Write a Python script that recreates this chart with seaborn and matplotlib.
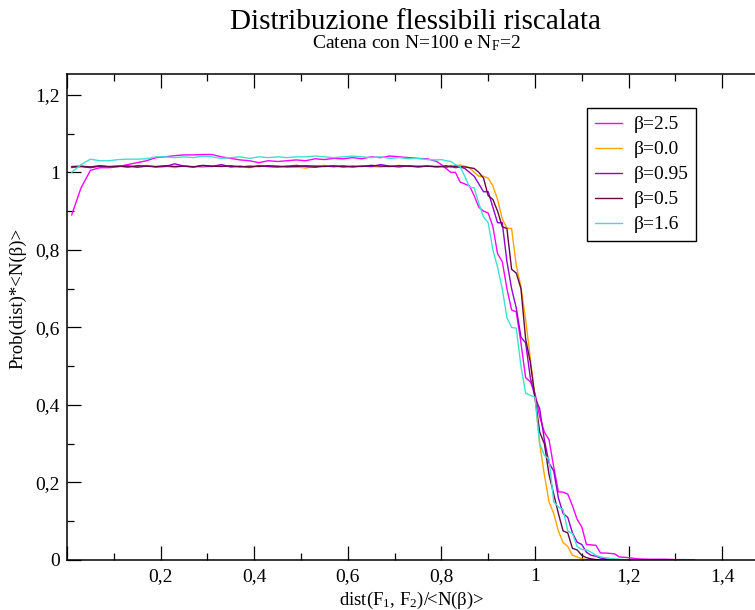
import matplotlib
matplotlib.use("Agg")
import matplotlib.pyplot as plt
import numpy as np
import pandas as pd
import seaborn as sns
from matplotlib.ticker import MultipleLocator, FuncFormatter

# ---------------- data ----------------
x_vals = [0.01, 0.03, 0.05, 0.07, 0.09, 0.11, 0.13, 0.15, 0.17, 0.19,
          0.21, 0.23, 0.25, 0.27, 0.29, 0.31, 0.33, 0.35, 0.37, 0.39,
          0.41, 0.43, 0.45, 0.47, 0.49, 0.51, 0.53, 0.55, 0.57, 0.59,
          0.61, 0.63, 0.65, 0.67, 0.69, 0.71, 0.73, 0.75, 0.77, 0.79,
          0.80, 0.81, 0.82, 0.83, 0.84, 0.85, 0.86, 0.87, 0.88, 0.89,
          0.90, 0.91, 0.92, 0.93, 0.94, 0.95, 0.96, 0.97, 0.98, 0.99,
          1.00, 1.01, 1.02, 1.03, 1.04, 1.05, 1.06, 1.07, 1.08, 1.09,
          1.10, 1.11, 1.12, 1.13, 1.14, 1.15, 1.16, 1.17, 1.18, 1.19,
          1.20, 1.22, 1.24, 1.26, 1.28, 1.30, 1.32, 1.34]

beta_25 = [0.89, 0.96, 1.005, 1.012, 1.012, 1.015, 1.02, 1.025, 1.03, 1.038,
           1.04, 1.043, 1.045, 1.045, 1.046, 1.046, 1.04, 1.036, 1.032, 1.03,
           1.025, 1.03, 1.028, 1.03, 1.032, 1.03, 1.035, 1.033, 1.036, 1.035,
           1.038, 1.035, 1.04, 1.038, 1.042, 1.04, 1.038, 1.036, 1.035, 1.028,
           1.02, 1.01, 1.0, 1.0, 0.975, 0.97, 0.965, 0.94, 0.91, 0.90,
           0.895, 0.86, 0.79, 0.77, 0.70, 0.645, 0.64, 0.56, 0.47, 0.46,
           0.43, 0.37, 0.33, 0.31, 0.24, 0.176, 0.175, 0.17, 0.14, 0.105,
           0.085, 0.04, 0.039, 0.038, 0.018, 0.018, 0.017, 0.016, 0.008, 0.007,
           0.006, 0.003, 0.002, 0.002, 0.002, 0.001, 0.001, 0.0]

beta_00 = [1.012, 1.015, 1.013, 1.016, 1.014, 1.017, 1.013, 1.015, 1.018, 1.014,
           1.016, 1.012, 1.017, 1.015, 1.013, 1.016, 1.018, 1.014, 1.015, 1.012,
           1.017, 1.015, 1.013, 1.016, 1.014, 1.011, 1.016, 1.018, 1.014, 1.015,
           1.013, 1.017, 1.015, 1.014, 1.016, 1.018, 1.015, 1.017, 1.016, 1.015,
           1.016, 1.015, 1.018, 1.016, 1.019, 1.016, 1.012, 1.0, 0.99, 0.99,
           0.985, 0.965, 0.93, 0.88, 0.856, 0.855, 0.76, 0.705, 0.62, 0.52,
           0.42, 0.30, 0.22, 0.15, 0.12, 0.075, 0.045, 0.035, 0.012, 0.008,
           0.003, 0.001, 0.0, 0.0, 0.0, 0.0, 0.0, 0.0, 0.0, 0.0,
           0.0, 0.0, 0.0, 0.0, 0.0, 0.0, 0.0, 0.0]

beta_095 = [1.013, 1.015, 1.012, 1.016, 1.014, 1.015, 1.017, 1.013, 1.016, 1.014,
            1.015, 1.022, 1.016, 1.014, 1.017, 1.015, 1.02, 1.014, 1.016, 1.013,
            1.017, 1.015, 1.014, 1.016, 1.018, 1.015, 1.013, 1.016, 1.015, 1.017,
            1.014, 1.016, 1.015, 1.02, 1.016, 1.014, 1.017, 1.015, 1.016, 1.014,
            1.015, 1.013, 1.016, 1.012, 1.014, 1.01, 1.0, 0.99, 0.97, 0.95,
            0.95, 0.91, 0.87, 0.87, 0.77, 0.70, 0.65, 0.575, 0.56, 0.47,
            0.42, 0.39, 0.31, 0.25, 0.23, 0.16, 0.12, 0.11, 0.07, 0.046,
            0.04, 0.02, 0.012, 0.01, 0.005, 0.003, 0.002, 0.001, 0.0, 0.0,
            0.0, 0.0, 0.0, 0.0, 0.0, 0.0, 0.0, 0.0]

beta_05 = [1.015, 1.016, 1.014, 1.017, 1.015, 1.016, 1.014, 1.017, 1.016, 1.015,
           1.017, 1.015, 1.016, 1.014, 1.018, 1.016, 1.015, 1.017, 1.014, 1.016,
           1.015, 1.017, 1.016, 1.014, 1.015, 1.017, 1.016, 1.015, 1.017, 1.014,
           1.016, 1.015, 1.018, 1.016, 1.015, 1.017, 1.016, 1.014, 1.016, 1.015,
           1.015, 1.017, 1.014, 1.016, 1.015, 1.014, 1.012, 1.01, 1.0, 0.985,
           0.94, 0.93, 0.90, 0.86, 0.855, 0.75, 0.74, 0.70, 0.57, 0.51,
           0.42, 0.33, 0.30, 0.22, 0.17, 0.12, 0.075, 0.07, 0.03, 0.026,
           0.012, 0.006, 0.003, 0.001, 0.0, 0.0, 0.0, 0.0, 0.0, 0.0,
           0.0, 0.0, 0.0, 0.0, 0.0, 0.0, 0.0, 0.0]

beta_16 = [1.0, 1.02, 1.034, 1.03, 1.03, 1.033, 1.034, 1.034, 1.035, 1.04,
           1.04, 1.038, 1.04, 1.038, 1.042, 1.04, 1.036, 1.038, 1.04, 1.036,
           1.04, 1.038, 1.04, 1.038, 1.04, 1.04, 1.042, 1.04, 1.038, 1.04,
           1.042, 1.04, 1.038, 1.04, 1.036, 1.038, 1.035, 1.036, 1.033, 1.032,
           1.033, 1.03, 1.028, 1.02, 1.015, 0.99, 0.962, 0.96, 0.92, 0.885,
           0.87, 0.80, 0.755, 0.70, 0.625, 0.60, 0.598, 0.50, 0.43, 0.425,
           0.42, 0.30, 0.27, 0.26, 0.15, 0.137, 0.13, 0.075, 0.068, 0.035,
           0.027, 0.026, 0.02, 0.012, 0.008, 0.006, 0.004, 0.003, 0.002, 0.001,
           0.001, 0.0, 0.0, 0.0, 0.0, 0.0, 0.0, 0.0]

series_labels = ["β=2.5", "β=0.0", "β=0.95", "β=0.5", "β=1.6"]
series_values = [beta_25, beta_00, beta_095, beta_05, beta_16]
series_colors = ["#FF00FF", "#FFA500", "#9400D3", "#670748", "#40E0D0"]

x_ticks = [0.0, 0.2, 0.4, 0.6, 0.8, 1.0, 1.2, 1.4]
y_ticks = [0.0, 0.2, 0.4, 0.6, 0.8, 1.0, 1.2]

# ---------------- style ----------------
sns.set_theme(style="ticks")
plt.rcParams['font.family'] = ['Liberation Serif', 'DejaVu Serif']
plt.rcParams['mathtext.fontset'] = 'custom'
plt.rcParams['mathtext.rm'] = 'Liberation Serif'
plt.rcParams['mathtext.it'] = 'Liberation Serif:italic'
plt.rcParams['mathtext.bf'] = 'Liberation Serif:bold'

W, H = 755, 610
fig = plt.figure(figsize=(W / 100, H / 100), dpi=100)
fig.patch.set_facecolor("white")

# axes frame: left 67px, right 769px (beyond image edge), top 73.5px, bottom 560px
ax = fig.add_axes([67 / W, (H - 560) / H, (769 - 67) / W, (560 - 73.5) / H])
ax.set_facecolor("white")

rows = []
for lab, vals in zip(series_labels, series_values):
    for xv, yv in zip(x_vals, vals):
        rows.append((xv, yv, lab))
df = pd.DataFrame(rows, columns=["dist", "prob", "serie"])

sns.lineplot(data=df, x="dist", y="prob", hue="serie", hue_order=series_labels,
             palette=dict(zip(series_labels, series_colors)), estimator=None,
             sort=False, linewidth=1.0, ax=ax)

ax.set_xlim(0, 1.5)
ax.set_ylim(0, 1.255)

def fmt(v, pos=None):
    s = "%g" % round(v, 6)
    return s.replace(".", ",")

def fmt_x(v, pos=None):
    if abs(v) < 1e-9:
        return ""
    return fmt(v)

ax.set_xticks(x_ticks)
ax.set_yticks(y_ticks)
ax.xaxis.set_major_formatter(FuncFormatter(fmt_x))
ax.yaxis.set_major_formatter(FuncFormatter(fmt))
ax.xaxis.set_minor_locator(MultipleLocator(0.1))
ax.yaxis.set_minor_locator(MultipleLocator(0.1))
ax.tick_params(which="both", direction="in", top=True, right=True,
               color="black", width=0.9, labelsize=14, labelcolor="black")
ax.tick_params(which="major", length=10)
ax.tick_params(which="minor", length=5)
ax.tick_params(axis="x", which="major", pad=6)
ax.tick_params(axis="y", which="major", pad=5)
for sp in ax.spines.values():
    sp.set_color("black")
    sp.set_linewidth(1.1)

ax.set_xlabel("dist(F$_1$, F$_2$)/<N(β)>", fontsize=13.5, color="black")
ax.xaxis.set_label_coords((412 - 67) / (769 - 67), -0.062)
ax.set_ylabel("Prob(dist)*<N(β)>", fontsize=13.5, color="black")
ax.yaxis.set_label_coords(-0.058, (560 - 298) / (560 - 73.5))

fig.text(416 / W, 1 - 22 / H, "Distribuzione flessibili riscalata",
         ha="center", va="center", fontsize=21, color="black")
fig.text(416 / W, 1 - 43 / H, "Catena con N=100 e N$_\\mathrm{F}$=2",
         ha="center", va="center", fontsize=14, color="black")

handles, labels = ax.get_legend_handles_labels()
leg = ax.legend(handles, labels, loc="upper left",
                bbox_to_anchor=(587 / W, 1 - 108 / H), bbox_transform=fig.transFigure,
                frameon=True, fancybox=False, shadow=False, framealpha=1,
                edgecolor="black", fontsize=14, handlelength=1.4,
                handletextpad=0.6, labelspacing=0.38, borderpad=0.4,
                borderaxespad=0)
leg.get_frame().set_linewidth(1.0)
for t in leg.get_texts():
    t.set_color("black")

fig.savefig("out.png", dpi=100)
